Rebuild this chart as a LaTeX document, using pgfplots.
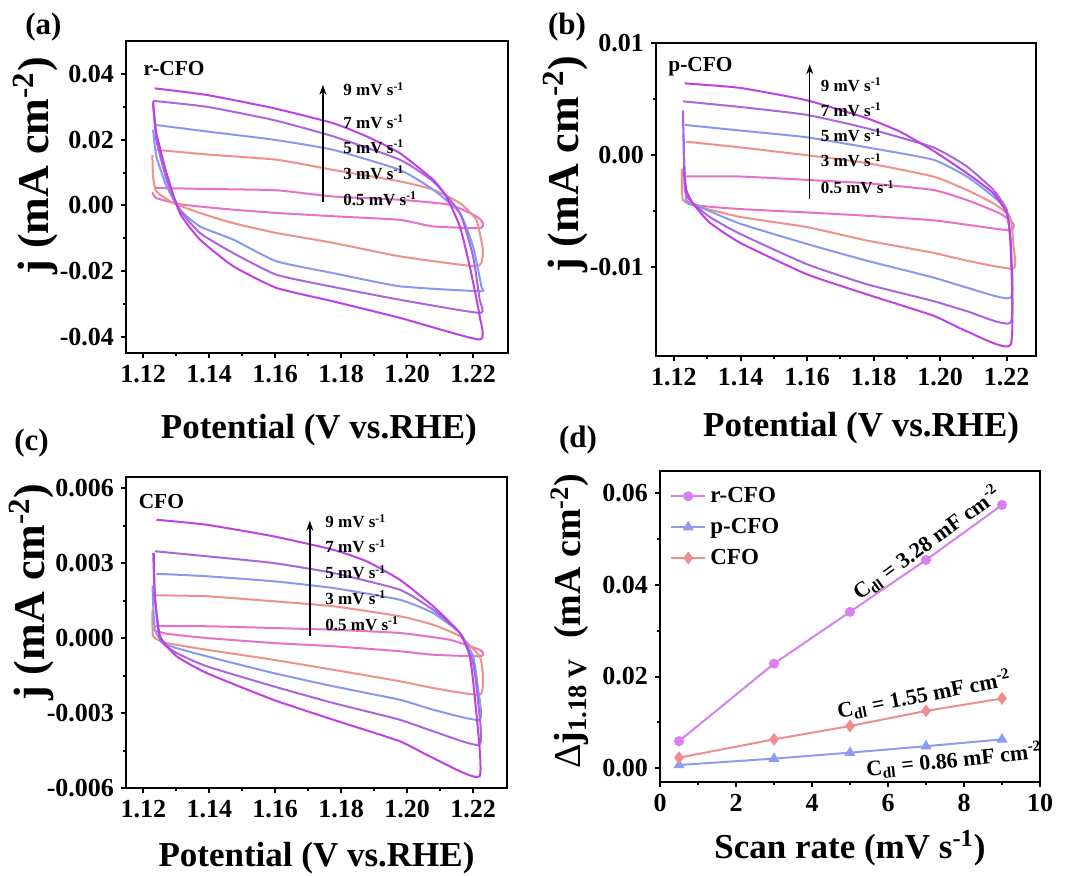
\documentclass[border=0pt]{standalone}
\usepackage{fontspec}
\setmainfont{Liberation Serif}
\usepackage{pgfplots}
\pgfplotsset{compat=1.18}
\usetikzlibrary{arrows.meta}

\definecolor{c9}{HTML}{C040E8}
\definecolor{c7}{HTML}{A866E2}
\definecolor{c5}{HTML}{8898F0}
\definecolor{c3}{HTML}{F09088}
\definecolor{c05}{HTML}{E870C8}
\definecolor{rcfo}{HTML}{D880F0}
\definecolor{pcfo}{HTML}{8C9CF0}
\definecolor{cfo}{HTML}{F08C8C}

\tikzset{
  rate/.style={anchor=west, inner sep=0pt, font=\fontsize{8.5}{9}\selectfont\bfseries},
  tag/.style={anchor=west, inner sep=0pt, font=\fontsize{10.7}{11}\selectfont\bfseries},
  curve/.style={line width=1pt, smooth, tension=0.3},
}

\pgfplotsset{
  panel/.style={
    scale only axis, clip=false,
    axis line style={line width=1pt},
    tick style={line width=1pt, black},
    major tick length=2.5pt, minor tick length=1.5pt,
    tick align=outside, xtick pos=bottom, ytick pos=left,
    minor tick num=1,
    scaled y ticks=false, scaled x ticks=false,
    tick label style={font=\fontsize{13}{13}\selectfont\bfseries},
    /pgf/number format/assume math mode=true,
    label style={font=\fontsize{17.5}{18}\selectfont\bfseries},
    xlabel style={anchor=center},
    ylabel style={anchor=center, rotate=0},
  },
  fix2/.style={/pgf/number format/fixed, /pgf/number format/fixed zerofill, /pgf/number format/precision=2},
  fix3/.style={/pgf/number format/fixed, /pgf/number format/fixed zerofill, /pgf/number format/precision=3},
  cv/.style={panel,
    xtick={1.12,1.14,1.16,1.18,1.20,1.22},
    xticklabel style={fix2},
    xlabel={Potential (V vs.RHE)},
    ylabel={j (mA cm\textsuperscript{-2})},
    ylabel style={font=\fontsize{22}{22}\selectfont\bfseries},
  },
}

\begin{document}
\begin{tikzpicture}
\path[use as bounding box] (0,0) rectangle (533pt,437.5pt);

% ---------- (a) r-CFO ----------
\begin{axis}[cv, at={(63pt,261pt)}, anchor=south west, width=191pt, height=156pt,
  xmin=1.1148, xmax=1.2306, ymin=-0.0449, ymax=0.050,
  ytick={-0.04,-0.02,0,0.02,0.04},
  yticklabel style={fix2},
  xlabel style={at={(axis description cs:0.505,-0.247)}},
  ylabel style={at={(axis description cs:-0.238,0.60)}},
]
\addplot[curve, c05] coordinates {(1.1238,0.0053)(1.1392,0.0050)(1.1604,0.0046)(1.1776,0.0027)(1.1978,0.0017)(1.2129,0.0002)(1.2210,-0.0033)(1.2230,-0.0054)(1.2220,-0.0069)(1.2079,-0.0064)(1.1978,-0.0044)(1.1776,-0.0033)(1.1604,-0.0023)(1.1473,-0.0013)(1.1321,0.0002)(1.1240,0.0022)(1.1228,0.0040)};
\addplot[curve, c3] coordinates {(1.1240,0.0169)(1.1392,0.0155)(1.1604,0.0139)(1.1776,0.0108)(1.1978,0.0073)(1.2079,0.0048)(1.2160,0.0007)(1.2210,-0.0044)(1.2230,-0.0135)(1.2225,-0.0175)(1.2200,-0.0185)(1.1978,-0.0155)(1.1776,-0.0114)(1.1604,-0.0084)(1.1473,-0.0054)(1.1372,-0.0023)(1.1291,0.0007)(1.1240,0.0043)(1.1230,0.0088)(1.1228,0.0154)};
\addplot[curve, c5] coordinates {(1.1235,0.0245)(1.1392,0.0225)(1.1594,0.0200)(1.1776,0.0169)(1.1978,0.0108)(1.2079,0.0048)(1.2160,-0.0023)(1.2200,-0.0125)(1.2225,-0.0246)(1.2220,-0.0261)(1.1978,-0.0246)(1.1776,-0.0206)(1.1604,-0.0170)(1.1473,-0.0104)(1.1372,-0.0064)(1.1311,-0.0013)(1.1271,0.0058)(1.1240,0.0149)(1.1230,0.0230)};
\addplot[curve, c7] coordinates {(1.1230,0.0318)(1.1392,0.0300)(1.1594,0.0260)(1.1776,0.0210)(1.1978,0.0139)(1.2079,0.0073)(1.2160,-0.0023)(1.2200,-0.0155)(1.2220,-0.0287)(1.2220,-0.0327)(1.1978,-0.0287)(1.1776,-0.0248)(1.1604,-0.0211)(1.1473,-0.0145)(1.1372,-0.0084)(1.1311,-0.0013)(1.1271,0.0078)(1.1240,0.0200)(1.1230,0.0310)};
\addplot[curve, c9] coordinates {(1.1235,0.0356)(1.1392,0.0336)(1.1594,0.0296)(1.1776,0.0250)(1.1877,0.0210)(1.1978,0.0159)(1.2079,0.0078)(1.2119,0.0027)(1.2160,-0.0064)(1.2190,-0.0185)(1.2220,-0.0337)(1.2220,-0.0408)(1.1978,-0.0342)(1.1776,-0.0292)(1.1604,-0.0251)(1.1473,-0.0185)(1.1372,-0.0104)(1.1311,-0.0023)(1.1271,0.0098)(1.1240,0.0220)(1.1230,0.0316)};
\node[tag] at (axis cs:1.1200,0.0417) {r-CFO};
\draw[line width=0.7pt, -{Stealth[length=5pt,width=3.5pt]}] (axis cs:1.1745,0.0010) -- (axis cs:1.1745,0.0367);
\node[rate] at (axis cs:1.1806,0.0353) {9 mV s\textsuperscript{-1}};
\node[rate] at (axis cs:1.1806,0.0255) {7 mV s\textsuperscript{-1}};
\node[rate] at (axis cs:1.1806,0.0179) {5 mV s\textsuperscript{-1}};
\node[rate] at (axis cs:1.1806,0.0100) {3 mV s\textsuperscript{-1}};
\node[rate] at (axis cs:1.1806,0.0020) {0.5 mV s\textsuperscript{-1}};
\end{axis}

% ---------- (b) p-CFO ----------
\begin{axis}[cv, at={(328pt,259.5pt)}, anchor=south west, width=190pt, height=156.5pt,
  xmin=1.1146, xmax=1.2288, ymin=-0.0179, ymax=0.010,
  ytick={-0.01,0,0.01},
  yticklabel style={fix2},
  xlabel style={at={(axis description cs:0.54,-0.23)}},
  ylabel style={at={(axis description cs:-0.237,0.613)}},
]
\addplot[curve, c05] coordinates {(1.1237,-0.0019)(1.1398,-0.0019)(1.1598,-0.0022)(1.1779,-0.0025)(1.1979,-0.0031)(1.2080,-0.0040)(1.2180,-0.0052)(1.2220,-0.0061)(1.2210,-0.0067)(1.2080,-0.0062)(1.1979,-0.0058)(1.1779,-0.0054)(1.1598,-0.0051)(1.1398,-0.0048)(1.1277,-0.0045)(1.1227,-0.0040)};
\addplot[curve, c3] coordinates {(1.1237,0.0012)(1.1398,0.0007)(1.1598,0.0000)(1.1779,-0.0007)(1.1979,-0.0019)(1.2080,-0.0031)(1.2160,-0.0043)(1.2210,-0.0055)(1.2220,-0.0080)(1.2220,-0.0101)(1.2080,-0.0094)(1.1979,-0.0087)(1.1779,-0.0076)(1.1598,-0.0064)(1.1398,-0.0055)(1.1277,-0.0046)(1.1227,-0.0040)(1.1224,-0.0012)};
\addplot[curve, c5] coordinates {(1.1232,0.0027)(1.1398,0.0022)(1.1598,0.0016)(1.1779,0.0007)(1.1979,-0.0004)(1.2080,-0.0019)(1.2160,-0.0037)(1.2200,-0.0049)(1.2212,-0.0080)(1.2212,-0.0127)(1.2080,-0.0118)(1.1979,-0.0109)(1.1779,-0.0094)(1.1598,-0.0079)(1.1398,-0.0061)(1.1277,-0.0046)(1.1237,-0.0040)(1.1229,0.0019)};
\addplot[curve, c7] coordinates {(1.1227,0.0048)(1.1398,0.0043)(1.1598,0.0036)(1.1779,0.0024)(1.1979,0.0007)(1.2080,-0.0010)(1.2160,-0.0031)(1.2200,-0.0049)(1.2212,-0.0080)(1.2212,-0.0149)(1.2080,-0.0139)(1.1979,-0.0130)(1.1779,-0.0115)(1.1598,-0.0097)(1.1398,-0.0070)(1.1307,-0.0055)(1.1247,-0.0040)(1.1232,-0.0028)(1.1227,0.0040)};
\addplot[curve, c9] coordinates {(1.1232,0.0064)(1.1398,0.0060)(1.1598,0.0049)(1.1779,0.0033)(1.1879,0.0021)(1.1979,0.0004)(1.2080,-0.0016)(1.2160,-0.0034)(1.2200,-0.0052)(1.2212,-0.0080)(1.2212,-0.0169)(1.2080,-0.0157)(1.1979,-0.0143)(1.1779,-0.0124)(1.1598,-0.0106)(1.1398,-0.0078)(1.1307,-0.0060)(1.1257,-0.0043)(1.1237,-0.0031)(1.1230,-0.0010)};
\node[tag] at (axis cs:1.1182,0.0079) {p-CFO};
\draw[line width=0.7pt, -{Stealth[length=5pt,width=3.5pt]}] (axis cs:1.1608,-0.0039) -- (axis cs:1.1608,0.0081);
\node[rate] at (axis cs:1.1640,0.00627) {9 mV s\textsuperscript{-1}};
\node[rate] at (axis cs:1.1640,0.00403) {7 mV s\textsuperscript{-1}};
\node[rate] at (axis cs:1.1640,0.00179) {5 mV s\textsuperscript{-1}};
\node[rate] at (axis cs:1.1640,-0.00045) {3 mV s\textsuperscript{-1}};
\node[rate] at (axis cs:1.1640,-0.00284) {0.5 mV s\textsuperscript{-1}};
\end{axis}

% ---------- (c) CFO ----------
\begin{axis}[cv, at={(63pt,43.5pt)}, anchor=south west, width=190.5pt, height=155.5pt,
  xmin=1.11475, xmax=1.2303, ymin=-0.006, ymax=0.00644,
  ytick={-0.006,-0.003,0,0.003,0.006},
  yticklabel style={fix3},
  xlabel style={at={(axis description cs:0.50,-0.225)}},
  ylabel style={at={(axis description cs:-0.247,0.63)}},
]
\addplot[curve, c05] coordinates {(1.1235,0.00047)(1.1392,0.00047)(1.1594,0.00040)(1.1776,0.00033)(1.1978,0.00020)(1.2129,-0.00007)(1.2220,-0.00047)(1.2230,-0.00060)(1.2220,-0.00073)(1.2079,-0.00067)(1.1978,-0.00053)(1.1776,-0.00033)(1.1594,-0.00020)(1.1392,0.00000)(1.1271,0.00017)(1.1230,0.00033)};
\addplot[curve, c3] coordinates {(1.1235,0.00171)(1.1392,0.00167)(1.1594,0.00147)(1.1776,0.00127)(1.1978,0.00087)(1.2079,0.00053)(1.2160,0.00007)(1.2220,-0.00073)(1.2230,-0.00153)(1.2220,-0.00227)(1.2079,-0.00200)(1.1978,-0.00173)(1.1776,-0.00127)(1.1594,-0.00087)(1.1392,-0.00047)(1.1271,-0.00020)(1.1230,0.00007)(1.1228,0.00113)};
\addplot[curve, c5] coordinates {(1.1240,0.00257)(1.1392,0.00247)(1.1594,0.00227)(1.1776,0.00200)(1.1978,0.00153)(1.2079,0.00100)(1.2160,0.00020)(1.2200,-0.00073)(1.2215,-0.00200)(1.2220,-0.00327)(1.2079,-0.00287)(1.1978,-0.00247)(1.1776,-0.00193)(1.1594,-0.00140)(1.1392,-0.00073)(1.1271,-0.00027)(1.1235,0.00033)(1.1228,0.00210)};
\addplot[curve, c7] coordinates {(1.1235,0.00347)(1.1392,0.00327)(1.1594,0.00300)(1.1776,0.00260)(1.1978,0.00193)(1.2079,0.00113)(1.2160,0.00020)(1.2200,-0.00100)(1.2215,-0.00250)(1.2220,-0.00427)(1.2079,-0.00373)(1.1978,-0.00327)(1.1776,-0.00260)(1.1594,-0.00193)(1.1392,-0.00113)(1.1301,-0.00060)(1.1251,-0.00007)(1.1235,0.00167)(1.1230,0.00340)};
\addplot[curve, c9] coordinates {(1.1240,0.00473)(1.1392,0.00453)(1.1594,0.00407)(1.1776,0.00353)(1.1877,0.00307)(1.1978,0.00233)(1.2079,0.00127)(1.2160,0.00020)(1.2190,-0.00073)(1.2205,-0.00233)(1.2220,-0.00553)(1.2079,-0.00480)(1.1978,-0.00413)(1.1776,-0.00327)(1.1594,-0.00247)(1.1392,-0.00140)(1.1301,-0.00073)(1.1251,0.00007)(1.1235,0.00167)(1.1232,0.00340)};
\node[tag] at (axis cs:1.1185,0.00547) {CFO};
\draw[line width=0.7pt, -{Stealth[length=5pt,width=3.5pt]}] (axis cs:1.1705,0.00007) -- (axis cs:1.1705,0.00469);
\node[rate] at (axis cs:1.1751,0.00467) {9 mV s\textsuperscript{-1}};
\node[rate] at (axis cs:1.1751,0.00367) {7 mV s\textsuperscript{-1}};
\node[rate] at (axis cs:1.1751,0.00263) {5 mV s\textsuperscript{-1}};
\node[rate] at (axis cs:1.1751,0.00160) {3 mV s\textsuperscript{-1}};
\node[rate] at (axis cs:1.1751,0.00057) {0.5 mV s\textsuperscript{-1}};
\end{axis}

% ---------- (d) Cdl ----------
\begin{axis}[panel, at={(330pt,46.5pt)}, anchor=south west, width=190pt, height=155.5pt,
  xmin=0, xmax=10, ymin=-0.003, ymax=0.0648,
  xtick={0,2,4,6,8,10}, ytick={0,0.02,0.04,0.06},
  yticklabel style={fix2},
  xlabel={Scan rate (mV s\textsuperscript{-1})},
  ylabel={{\mdseries Δ}j\textsubscript{1.18 V}\ \ (mA cm\textsuperscript{-2})},
  ylabel style={font=\fontsize{19}{19}\selectfont\bfseries},
  xlabel style={at={(axis description cs:0.50,-0.212)}},
  ylabel style={at={(axis description cs:-0.237,0.518)}},
  legend style={at={(axis description cs:0.01,0.975)}, anchor=north west, draw=none, fill=none,
    font=\fontsize{11.5}{12}\selectfont\bfseries, row sep=2.3pt},
  legend cell align=left,
]
\addplot[rcfo, line width=1pt, mark=*, mark size=2pt] coordinates {(0.5,0.0059)(3,0.0228)(5,0.0341)(7,0.0454)(9,0.0574)};
\addlegendentry{r-CFO}
\addplot[pcfo, line width=1pt, mark=triangle*, mark size=2.2pt] coordinates {(0.5,0.0007)(3,0.0021)(5,0.0034)(7,0.0048)(9,0.0063)};
\addlegendentry{p-CFO}
\addplot[cfo, line width=1pt, mark=diamond*, mark size=2.4pt] coordinates {(0.5,0.0023)(3,0.0063)(5,0.0092)(7,0.0125)(9,0.0152)};
\addlegendentry{CFO}
\node[rotate=36, font=\fontsize{11}{11}\selectfont\bfseries] at (axis cs:7.02,0.0491) {C\textsubscript{dl} = 3.28 mF cm\textsuperscript{-2}};
\node[rotate=11, font=\fontsize{11}{11}\selectfont\bfseries] at (axis cs:6.95,0.0160) {C\textsubscript{dl} = 1.55 mF cm\textsuperscript{-2}};
\node[rotate=6, font=\fontsize{11}{11}\selectfont\bfseries] at (axis cs:7.74,0.0018) {C\textsubscript{dl} = 0.86 mF cm\textsuperscript{-2}};
\end{axis}

% panel letters
\node[font=\fontsize{15.5}{16}\selectfont\bfseries] at (21.75pt,424pt) {(a)};
\node[font=\fontsize{15.5}{16}\selectfont\bfseries] at (283.5pt,424pt) {(b)};
\node[font=\fontsize{15.5}{16}\selectfont\bfseries] at (15.75pt,216pt) {(c)};
\node[font=\fontsize{15.5}{16}\selectfont\bfseries] at (289pt,217.5pt) {(d)};
\end{tikzpicture}
\end{document}
